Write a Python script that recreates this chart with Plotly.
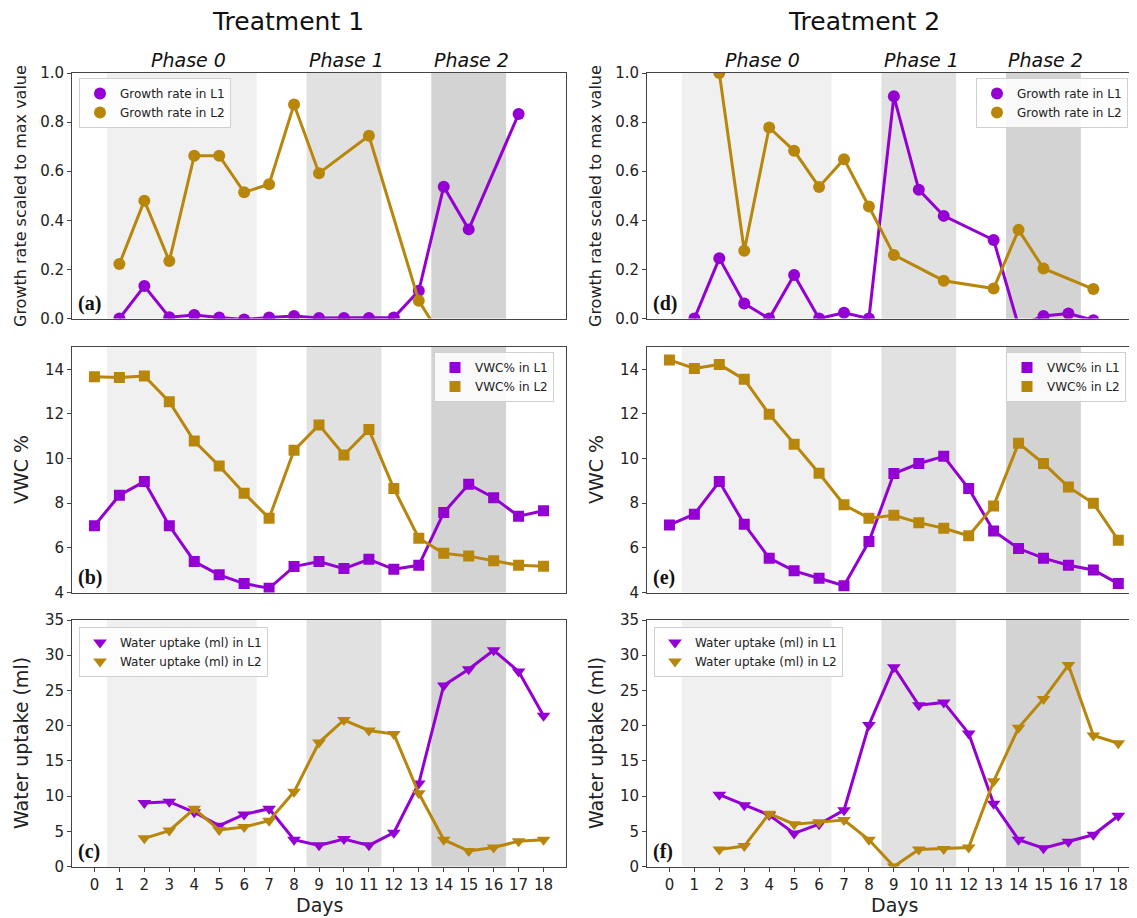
import plotly.graph_objects as go

# ---------------- data ----------------
days = list(range(19))
day_tick_labels = [str(d) for d in days]

# Treatment 1
t1_growth_L1 = [None, 0.0, 0.132, 0.005, 0.014, 0.004, -0.004, 0.004, 0.010, 0.002, 0.002, 0.002, 0.004,
                0.113, 0.537, 0.363, None, 0.833, None]
t1_growth_L2 = [None, 0.222, 0.480, 0.234, 0.663, 0.663, 0.514, 0.547, 0.872, 0.592, None, 0.744, None,
                0.072, -0.09, None, None, None, None]
t1_vwc_L1 = [6.99, 8.36, 8.97, 6.99, 5.39, 4.79, 4.40, 4.19, 5.16, 5.39, 5.07, 5.49, 5.04, 5.22,
             7.58, 8.85, 8.25, 7.42, 7.66]
t1_vwc_L2 = [13.67, 13.63, 13.70, 12.55, 10.79, 9.67, 8.45, 7.33, 10.37, 11.51, 10.16, 11.30, 8.66,
             6.43, 5.76, 5.63, 5.42, 5.22, 5.18]
t1_water_L1 = [None, None, 9.0, 9.2, 7.7, 5.8, 7.4, 8.2, 3.8, 3.0, 3.9, 3.0, 4.8, 11.8, 25.7, 28.0,
               30.7, 27.7, 21.4]
t1_water_L2 = [None, None, 4.0, 5.1, 8.2, 5.2, 5.6, 6.5, 10.6, 17.6, 20.8, 19.3, 18.8, 10.4, 3.8,
               2.2, 2.7, 3.6, 3.8]

# Treatment 2
t2_growth_L1 = [None, 0.0, 0.245, 0.061, 0.0, 0.177, 0.0, 0.023, 0.0, 0.905, 0.524, 0.418, None,
                0.320, -0.03, 0.010, 0.020, -0.007, None]
t2_growth_L2 = [None, None, 1.0, 0.276, 0.778, 0.683, 0.536, 0.649, 0.456, 0.259, None, 0.154, None,
                0.122, 0.361, 0.204, None, 0.120, None]
t2_vwc_L1 = [7.03, 7.51, 8.97, 7.06, 5.54, 4.97, 4.64, 4.30, 6.28, 9.33, 9.78, 10.10, 8.66, 6.76,
             5.97, 5.54, 5.22, 5.01, 4.40]
t2_vwc_L2 = [14.42, 14.04, 14.22, 13.55, 11.99, 10.64, 9.34, 7.93, 7.33, 7.46, 7.13, 6.88, 6.54,
             7.88, 10.69, 9.78, 8.73, 8.00, 6.34]
t2_water_L1 = [None, None, 10.2, 8.7, 7.3, 4.7, 6.0, 8.0, 20.1, 28.3, 22.9, 23.3, 18.9, 8.9, 3.8,
               2.6, 3.5, 4.5, 7.2]
t2_water_L2 = [None, None, 2.4, 2.9, 7.5, 6.0, 6.3, 6.6, 3.8, 0.0, 2.4, 2.5, 2.7, 12.1, 19.7,
               23.8, 28.6, 18.6, 17.5]

phase_names = ["Phase 0", "Phase 1", "Phase 2"]
phase_start = [0.5, 8.5, 13.5]
phase_end = [6.5, 11.5, 16.5]
phase_label_x = [3.75, 10.1, 15.1]
phase_colors = ["#f0f0f0", "#e1e1e1", "#d3d3d3"]

C1 = "#9400d3"
C2 = "#b8860b"
FONT = "DejaVu Sans"

# ---------------- layout geometry ----------------
# page body has an 8px margin, so the figure is sized to fill the rest of the window
OFF = 8
W, H = 1137 - OFF, 918 - OFF
def px_x(p):
    return (p - OFF) / W
def px_y(p):
    return 1 - (p - OFF) / H

col_dom = [[px_x(72), px_x(566)], [px_x(647), 1.0]]
row_dom = [[px_y(318.5), px_y(73)], [px_y(592.5), px_y(347)], [px_y(866.5), px_y(620)]]
x_ranges = [[-0.9, 18.9], [-0.9, 18.75]]

panels = [
    (0, 0, t1_growth_L1, t1_growth_L2, "circle", ["Growth rate in L1", "Growth rate in L2"], [0, 1.0],
     [0, 0.2, 0.4, 0.6, 0.8, 1.0], ".1f", "(a)"),
    (0, 1, t2_growth_L1, t2_growth_L2, "circle", ["Growth rate in L1", "Growth rate in L2"], [0, 1.0],
     [0, 0.2, 0.4, 0.6, 0.8, 1.0], ".1f", "(d)"),
    (1, 0, t1_vwc_L1, t1_vwc_L2, "square", ["VWC% in L1", "VWC% in L2"], [4, 15],
     [4, 6, 8, 10, 12, 14], "d", "(b)"),
    (1, 1, t2_vwc_L1, t2_vwc_L2, "square", ["VWC% in L1", "VWC% in L2"], [4, 15],
     [4, 6, 8, 10, 12, 14], "d", "(e)"),
    (2, 0, t1_water_L1, t1_water_L2, "triangle-down", ["Water uptake (ml) in L1", "Water uptake (ml) in L2"],
     [0, 35], [0, 5, 10, 15, 20, 25, 30, 35], "d", "(c)"),
    (2, 1, t2_water_L1, t2_water_L2, "triangle-down", ["Water uptake (ml) in L1", "Water uptake (ml) in L2"],
     [0, 35], [0, 5, 10, 15, 20, 25, 30, 35], "d", "(f)"),
]

legend_pos = [
    dict(x=px_x(79), y=px_y(78), xanchor="left", yanchor="top"),
    dict(x=px_x(1128), y=px_y(78), xanchor="right", yanchor="top"),
    dict(x=px_x(554), y=px_y(352), xanchor="right", yanchor="top"),
    dict(x=px_x(1126), y=px_y(352), xanchor="right", yanchor="top"),
    dict(x=px_x(79), y=px_y(627), xanchor="left", yanchor="top"),
    dict(x=px_x(654), y=px_y(627), xanchor="left", yanchor="top"),
]

fig = go.Figure()
layout = dict(
    width=W, height=H, autosize=False, margin=dict(l=0, r=0, t=0, b=0, pad=0, autoexpand=False),
    paper_bgcolor="white", plot_bgcolor="white",
    font=dict(family=FONT, color="#222"),
    showlegend=True,
)
shapes = []
annotations = []

for i, (r, c, l1, l2, sym, names, yr, ytv, fmt, plab) in enumerate(panels):
    k = i + 1
    xa = "x" if k == 1 else f"x{k}"
    ya = "y" if k == 1 else f"y{k}"
    lg = "legend" if k == 1 else f"legend{k}"
    for vals, col, name in [(l1, C1, names[0]), (l2, C2, names[1])]:
        fig.add_trace(go.Scatter(x=days, y=vals, mode="lines", connectgaps=True,
                                 line=dict(color=col, width=3), showlegend=False,
                                 xaxis=xa, yaxis=ya, hoverinfo="skip"))
        fig.add_trace(go.Scatter(x=days, y=vals, mode="markers", name=name,
                                 marker=dict(symbol=sym, color=col, size=12 if sym != "square" else 11,
                                             line=dict(width=0)),
                                 xaxis=xa, yaxis=ya, legend=lg))
    xkey = "xaxis" if k == 1 else f"xaxis{k}"
    ykey = "yaxis" if k == 1 else f"yaxis{k}"
    bottom = (r == 2)
    layout[xkey] = dict(
        domain=col_dom[c], anchor=ya, range=x_ranges[c], showgrid=False, zeroline=False,
        automargin=False,
        showline=True, mirror=True, linecolor="#444", linewidth=1,
        tickmode="array", tickvals=days, ticktext=day_tick_labels,
        ticks="outside" if bottom else "", ticklen=4, tickcolor="#444",
        showticklabels=bottom, tickfont=dict(size=15, family=FONT, color="#222"),
    )
    layout[ykey] = dict(
        domain=row_dom[r], anchor=xa, range=yr, showgrid=False, zeroline=False,
        automargin=False,
        showline=True, mirror=True, linecolor="#444", linewidth=1,
        tickmode="array", tickvals=ytv,
        ticktext=[format(v, fmt) if fmt != "d" else str(int(v)) for v in ytv],
        ticks="outside", ticklen=4, tickcolor="#444",
        tickfont=dict(size=15, family=FONT, color="#222"),
    )
    layout[lg] = dict(**legend_pos[i], bgcolor="rgba(255,255,255,0.85)", bordercolor="#d0d0d0",
                      borderwidth=1, font=dict(size=12, family=FONT, color="#222"),
                      itemsizing="trace", tracegroupgap=0)
    for s, e, fc in zip(phase_start, phase_end, phase_colors):
        shapes.append(dict(type="rect", xref=xa, yref=f"{ya} domain", x0=s, x1=e, y0=0, y1=1,
                           fillcolor=fc, line=dict(width=0), layer="below"))
    annotations.append(dict(text=f"<b>{plab}</b>", xref=f"{xa} domain", yref=f"{ya} domain",
                            x=0.008, y=0.06, xanchor="left", yanchor="middle", showarrow=False,
                            font=dict(family="Liberation Serif", size=20, color="#111")))

annotations.append(dict(text="Treatment 1", xref="paper", yref="paper", x=px_x(288), y=px_y(22),
                        xanchor="center", yanchor="middle",
                        showarrow=False, font=dict(size=25, family=FONT, color="#111")))
annotations.append(dict(text="Treatment 2", xref="paper", yref="paper", x=px_x(864), y=px_y(22),
                        xanchor="center", yanchor="middle",
                        showarrow=False, font=dict(size=25, family=FONT, color="#111")))
for xa in ["x", "x2"]:
    for nm, lx in zip(phase_names, phase_label_x):
        annotations.append(dict(text=f"<i>{nm}</i>", xref=xa, yref="paper", x=lx, y=px_y(60),
                                xanchor="center", yanchor="middle",
                                showarrow=False, font=dict(size=19, family=FONT, color="#111")))
ylabels = [("Growth rate scaled to max value", 16, 196), ("VWC %", 19, 470), ("Water uptake (ml)", 19, 743)]
for xpos in [21, 596]:
    for txt, fs, yc in ylabels:
        annotations.append(dict(text=txt, xref="paper", yref="paper", x=px_x(xpos), y=px_y(yc),
                                textangle=-90, showarrow=False, xanchor="center", yanchor="middle",
                                font=dict(size=fs, family=FONT, color="#222")))
for xc in [319, 894]:
    annotations.append(dict(text="Days", xref="paper", yref="paper", x=px_x(xc), y=px_y(905),
                            showarrow=False, xanchor="center", yanchor="middle",
                            font=dict(size=19, family=FONT, color="#222")))

layout["shapes"] = shapes
layout["annotations"] = annotations
fig.update_layout(**layout)
fig.write_html("out.html")
